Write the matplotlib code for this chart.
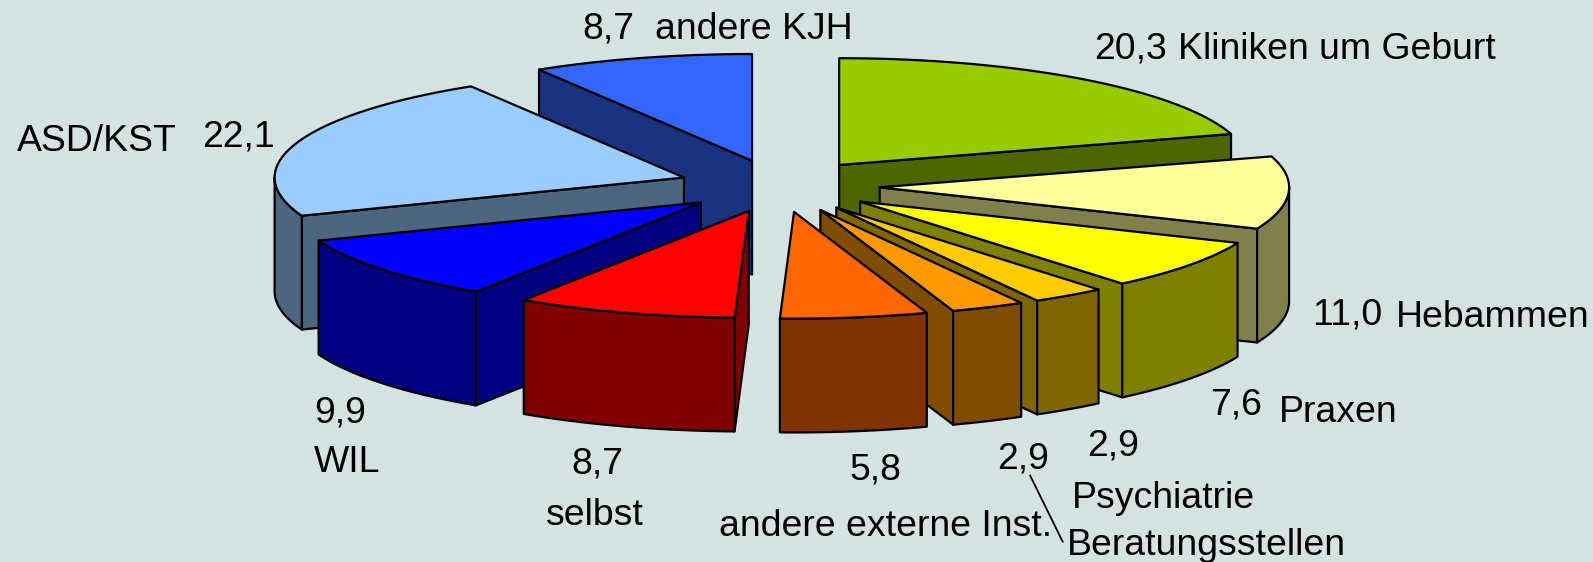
# Exploded 3D pie chart drawn by hand with polygons, since matplotlib has no 3D pie

import numpy as np
import matplotlib
matplotlib.use("Agg")
import matplotlib.pyplot as plt
from matplotlib.patches import Polygon

plt.rcParams['font.family'] = ['Liberation Sans', 'DejaVu Sans']

# Slices clockwise from 12 o'clock
categories = ["Kliniken um Geburt", "Hebammen", "Praxen", "Psychiatrie", "Beratungsstellen",
              "andere externe Inst.", "selbst", "WIL", "ASD/KST", "andere KJH"]
values = [20.3, 11.0, 7.6, 2.9, 2.9, 5.8, 8.7, 9.9, 22.1, 8.7]

top_colors = ["#99CC00", "#FFFF99", "#FFFF00", "#FFCC00", "#FF9900",
              "#FF6600", "#FF0000", "#0000FF", "#99CCFF", "#3366FF"]
side_colors = ["#4D6600", "#80804D", "#808000", "#806600", "#804D00",
               "#803300", "#800000", "#000080", "#4D6680", "#1A3380"]

# Text anchors (left, baseline) for the value and the name of each slice
value_pos = [(1077, 58), (1292, 319), (1191, 408), (1070, 448), (981, 461),
             (836, 472), (562, 466), (309, 416), (199, 144), (573, 38)]
name_pos = [(1160, 58), (1374, 322), (1259, 415), (1055, 500), (1050, 546),
            (708, 527), (537, 517), (309, 464), (17, 149), (645, 38)]

BACKGROUND = "#D4E2E2"
WIDTH, HEIGHT = 1568, 553
CX, CY = 767, 183
RX, RY = 403, 105
DEPTH = 112
EXPLODE = 99


def rim_point(apex, angle):
    # Point of the ellipse for a clockwise angle measured from the top
    return (apex[0] + RX * np.sin(angle), apex[1] - RY * np.cos(angle))


def draw_slice(ax, start, end, top_color, side_color):
    # Draws one slice: visible walls first, then the rim, then the top face
    mid = (start + end) / 2
    apex = (CX + EXPLODE * np.sin(mid), CY - EXPLODE * RY / RX * np.cos(mid))
    down = np.array([0, DEPTH])

    for angle, visible in ((start, np.sin(start) < -1e-6), (end, np.sin(end) > 1e-6)):
        if visible:
            p = np.array(rim_point(apex, angle))
            a = np.array(apex)
            ax.add_patch(Polygon([a, p, p + down, a + down], closed=True,
                                 facecolor=side_color, edgecolor="black", lw=1.6,
                                 joinstyle="round"))

    # Only the part of the rim between 90 and 270 degrees faces the viewer
    rim_start = max(start, np.pi / 2)
    rim_end = min(end, 3 * np.pi / 2)
    if rim_end > rim_start:
        angles = np.linspace(rim_start, rim_end, 80)
        upper = np.array([rim_point(apex, t) for t in angles])
        lower = upper + down
        ax.add_patch(Polygon(np.vstack([upper, lower[::-1]]), closed=True,
                             facecolor=side_color, edgecolor="black", lw=1.6,
                             joinstyle="round"))

    angles = np.linspace(start, end, 120)
    outline = [apex] + [rim_point(apex, t) for t in angles]
    ax.add_patch(Polygon(outline, closed=True, facecolor=top_color,
                         edgecolor="black", lw=1.6, joinstyle="round"))


fig = plt.figure(figsize=(15.93, 5.62), dpi=100, facecolor=BACKGROUND)
ax = fig.add_axes([0, 0, 1, 1])
ax.set_xlim(0, WIDTH)
ax.set_ylim(HEIGHT, 0)
ax.axis('off')

# Angles from the values
limits = np.concatenate([[0], np.cumsum(values)]) / np.sum(values) * 2 * np.pi
starts, ends = limits[:-1], limits[1:]

# Back slices first so the front ones cover them
order = np.argsort(-np.cos((starts + ends) / 2))
for i in order:
    draw_slice(ax, starts[i], ends[i], top_colors[i], side_colors[i])

# Labels
for i in range(len(values)):
    valor = f"{values[i]:.1f}".replace(".", ",")
    ax.text(value_pos[i][0], value_pos[i][1], valor, fontsize=26.9,
            ha='left', va='baseline', color="black")
    ax.text(name_pos[i][0], name_pos[i][1], categories[i], fontsize=26.9,
            ha='left', va='baseline', color="black")

# Leader line from the second 2,9 to Beratungsstellen
ax.plot([1014, 1046], [468, 533], color="black", lw=1.3)

fig.savefig("out.png", dpi=100, facecolor=BACKGROUND)
